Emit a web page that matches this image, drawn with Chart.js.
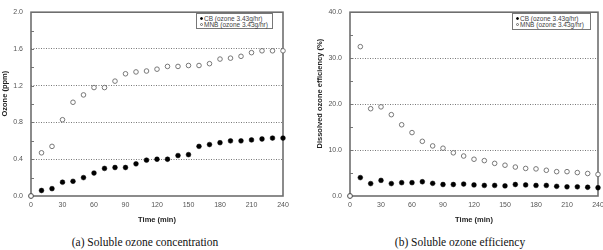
<!DOCTYPE html>
<html>
<head>
<meta charset="utf-8">
<script src="https://cdn.jsdelivr.net/npm/chart.js@4/dist/chart.umd.min.js"></script>
<style>
  html, body { margin:0; padding:0; background:#fff; }
  body { width:603px; height:250px; overflow:hidden; position:relative; font-family:"Liberation Sans", Arial, sans-serif; }
  .cv { position:absolute; top:0; }
  .legend { position:absolute; border:1px solid #777; background:#fff; box-sizing:border-box; padding:2px 0 0 3px; }
  .legend div { font-size:6.5px; line-height:6px; height:6px; color:#444; white-space:nowrap; }
  .mk { display:inline-block; width:3px; height:3px; border-radius:50%; box-sizing:border-box; margin-right:1px; vertical-align:middle; position:relative; top:-1px; }
  .cap { position:absolute; top:236px; font-family:"Liberation Serif", "Times New Roman", serif; font-size:11.5px; color:#111; white-space:nowrap; transform:translateX(-50%); }
</style>
</head>
<body>
<div class="cv" style="left:0;width:300px;height:226px;"><canvas id="c1" width="300" height="226"></canvas></div>
<div class="cv" style="left:300px;width:310px;height:226px;"><canvas id="c2" width="310" height="226"></canvas></div>
<div class="legend" id="lg1" style="left:196px;top:13px;width:77px;height:16px;"></div>
<div class="legend" id="lg2" style="left:512px;top:13px;width:79px;height:17px;"></div>
<div class="cap" style="left:145px;">(a) Soluble ozone concentration</div>
<div class="cap" style="left:460px;">(b) Soluble ozone efficiency</div>
<script>
const times = [0,10,20,30,40,50,60,70,80,90,100,110,120,130,140,150,160,170,180,190,200,210,220,230,240];
const seriesNames = ['CB (ozone 3.43g/hr)', 'MNB (ozone 3.43g/hr)'];
const ozoneCB  = [0,0.06,0.08,0.15,0.16,0.20,0.25,0.30,0.31,0.31,0.35,0.39,0.40,0.40,0.44,0.45,0.54,0.56,0.58,0.60,0.60,0.61,0.62,0.63,0.63];
const ozoneMNB = [0,0.47,0.54,0.83,1.02,1.10,1.18,1.18,1.25,1.33,1.35,1.36,1.38,1.41,1.41,1.42,1.42,1.44,1.49,1.50,1.52,1.56,1.58,1.58,1.58];
const effCB    = [0,4.0,2.7,3.4,2.7,2.9,2.9,3.1,2.75,2.5,2.5,2.6,2.4,2.3,2.3,2.2,2.5,2.4,2.3,2.3,2.1,2.0,2.0,1.9,1.8];
const effMNB   = [0,32.5,19.0,19.4,17.7,15.5,13.8,11.9,10.9,10.4,9.4,8.7,8.0,7.7,7.1,6.7,6.3,6.0,5.9,5.6,5.3,5.3,5.1,4.9,4.7];
const xTicks = [0,30,60,90,120,150,180,210,240];
const ozoneTicks = [0,0.4,0.8,1.2,1.6,2.0];
const effTicks = [0,10,20,30,40];
const xTitle = 'Time (min)';
const yTitle1 = 'Ozone (ppm)';
const yTitle2 = 'Dissolved ozone efficiency (%)';

const framePlugin = {
  id: 'frame',
  afterDatasetsDraw(chart) {}, 
  beforeDatasetsDraw(chart) {
    const {ctx, chartArea: a, scales: {y}} = chart;
    ctx.save();
    // minor ticks
    ctx.strokeStyle = '#777';
    ctx.lineWidth = 1;
    y.ticks.forEach((t, i) => {
      const py = Math.round(y.getPixelForValue(t.value)) + 0.5;
      ctx.beginPath(); ctx.moveTo(a.left, py); ctx.lineTo(a.left + 3, py); ctx.stroke();
    });
    ctx.strokeStyle = '#6e6e6e';
    ctx.lineWidth = 1.6;
    ctx.strokeRect(a.left, a.top, a.right - a.left, a.bottom - a.top);
    ctx.restore();
  }
};

function makeChart(id, cb, mnb, yMax, yStep, majorTicks, yTitle, yWidth, titlePad, padRight) {
  const majorSet = majorTicks.map(v => v.toFixed(2));
  const isMajor = v => majorSet.includes(Number(v).toFixed(2));
  return new Chart(document.getElementById(id), {
    type: 'scatter',
    data: {
      datasets: [
        { label: seriesNames[0], data: times.map((t, i) => ({x: t, y: cb[i]})),
          pointRadius: 2.4, pointBackgroundColor: '#000', pointBorderColor: '#000', pointBorderWidth: 0.5, clip: false, order: 2 },
        { label: seriesNames[1], data: times.map((t, i) => ({x: t, y: mnb[i]})),
          pointRadius: 2.3, pointBackgroundColor: '#fff', pointBorderColor: '#6a6a6a', pointBorderWidth: 0.9, clip: false, order: 1 }
      ]
    },
    options: {
      responsive: false, animation: false,
      layout: { padding: { top: 7, right: padRight, left: 0, bottom: 0 } },
      plugins: { legend: { display: false }, tooltip: { enabled: false } },
      scales: {
        x: {
          type: 'linear', min: 0, max: 240,
          afterBuildTicks: s => { s.ticks = xTicks.map(v => ({value: v})); },
          afterFit: s => { s.height = 30; },
          grid: { display: false, drawTicks: false },
          border: { display: false },
          ticks: { padding: 5, color: '#555', font: { size: 7, family: 'Liberation Sans' }, maxRotation: 0, autoSkip: false },
          title: { display: true, text: xTitle, color: '#222', padding: { top: 0, bottom: 2 }, font: { size: 7.5, weight: 'bold', family: 'Liberation Sans' } }
        },
        y: {
          type: 'linear', min: 0, max: yMax,
          ticks: { stepSize: yStep, padding: 8, color: '#555', font: { size: 7, family: 'Liberation Sans' },
                   callback: v => isMajor(v) ? Number(v).toFixed(1) : '' },
          afterFit: s => { s.width = yWidth; },
          grid: { drawTicks: false,
                  color: c => (c.tick && isMajor(c.tick.value) && c.tick.value > 0 && c.tick.value < yMax) ? '#555' : 'rgba(0,0,0,0)',
                  lineWidth: 0.8, borderDash: [1, 1.5] },
          border: { display: false, dash: [1, 1.5] },
          title: { display: true, text: '          ' + yTitle, color: '#222', padding: { top: titlePad, bottom: 0 }, font: { size: 7.5, weight: 'bold', family: 'Liberation Sans' } }
        }
      }
    },
    plugins: [framePlugin]
  });
}

const ch1 = makeChart('c1', ozoneCB, ozoneMNB, 2.0, 0.2, ozoneTicks, yTitle1, 31, 0, 17);
const ch2 = makeChart('c2', effCB, effMNB, 40, 5, effTicks, yTitle2, 50, 15, 12);

function buildLegend(elId, chart) {
  const el = document.getElementById(elId);
  chart.data.datasets.forEach(ds => {
    const row = document.createElement('div');
    const mk = document.createElement('span');
    mk.className = 'mk';
    mk.style.background = ds.pointBackgroundColor;
    mk.style.border = '0.7px solid ' + ds.pointBorderColor;
    row.appendChild(mk);
    row.appendChild(document.createTextNode(ds.label));
    el.appendChild(row);
  });
}
buildLegend('lg1', ch1);
buildLegend('lg2', ch2);
</script>
</body>
</html>
